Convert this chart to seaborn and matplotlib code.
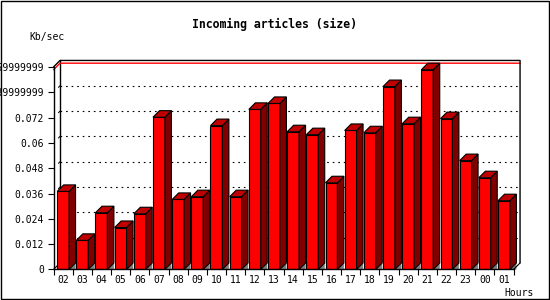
import matplotlib
matplotlib.use("Agg")
import matplotlib.pyplot as plt
from matplotlib.patches import Polygon, Rectangle
import pandas as pd
import seaborn as sns

hours = ["02", "03", "04", "05", "06", "07", "08", "09", "10", "11", "12", "13",
         "14", "15", "16", "17", "18", "19", "20", "21", "22", "23", "00", "01"]
rate = [0.0370, 0.0138, 0.0269, 0.0199, 0.0264, 0.0722, 0.0332, 0.0345,
        0.0682, 0.0345, 0.0759, 0.0787, 0.0653, 0.0639, 0.0411, 0.0659,
        0.0648, 0.0867, 0.0691, 0.0947, 0.0715, 0.0516, 0.0435, 0.0326]
y_ticks = [0, 0.012, 0.024, 0.036, 0.048, 0.06, 0.072, 0.084, 0.096]
y_labels = ["0", "0.012", "0.024", "0.036", "0.048", "0.06", "0.072",
            "0.0839999999", "0.0959999999"]

df = pd.DataFrame({"hour": hours, "rate": rate})

sns.set_style("white")
plt.rcParams["font.family"] = ["DejaVu Sans Mono"]
plt.rcParams["text.color"] = "black"
plt.rcParams["xtick.color"] = "black"
plt.rcParams["ytick.color"] = "black"
plt.rcParams["xtick.labelcolor"] = "black"
plt.rcParams["ytick.labelcolor"] = "black"

fig = plt.figure(figsize=(5.5, 3), dpi=100)
ax = fig.add_axes([0.0973, 0.1017, 0.8364, 0.675])
sns.barplot(data=df, x="hour", y="rate", color="#ff0000", saturation=1,
            width=0.62, edgecolor="black", linewidth=0.8, ax=ax, zorder=3)

xmin, xmax = -0.5, 23.5
ymax = y_ticks[-1]
ax.set_xlim(xmin, xmax)
ax.set_ylim(0, ymax)

# 3d depth offset (data units)
dx, dy = 0.34, 0.0031

for p in list(ax.patches):
    x0, w, h = p.get_x(), p.get_width(), p.get_height()
    xr = x0 + w
    ax.add_patch(Polygon([(xr, 0), (xr + dx, dy), (xr + dx, 0)],
                         closed=True, facecolor="#808080", edgecolor="none",
                         zorder=2, clip_on=False))
    ax.add_patch(Polygon([(xr, 0), (xr + dx, dy), (xr + dx, h + dy), (xr, h)],
                         closed=True, facecolor="#800000", edgecolor="black",
                         linewidth=0.8, zorder=3, clip_on=False))
    ax.add_patch(Polygon([(x0, h), (x0 + dx, h + dy), (xr + dx, h + dy), (xr, h)],
                         closed=True, facecolor="#c00000", edgecolor="black",
                         linewidth=0.8, zorder=3, clip_on=False))

# back wall grid
for v in y_ticks[1:-1]:
    ax.plot([xmin + dx, xmax + dx], [v + dy, v + dy], color="black", lw=0.8,
            dashes=(1.5, 3.5), zorder=1, clip_on=False)
    ax.plot([xmin + dx * 0.75, xmin + dx], [v + dy * 0.75, v + dy], color="black",
            lw=0.7, zorder=1, clip_on=False)

# back frame
ax.plot([xmin, xmin + dx, xmax + dx, xmax + dx], [ymax, ymax + dy, ymax + dy, dy],
        color="black", lw=1, zorder=2, clip_on=False)
ax.plot([xmin + dx, xmin + dx], [dy, ymax + dy], color="black", lw=1,
        zorder=1, clip_on=False)
ax.plot([xmin, xmin + dx], [0, dy], color="black", lw=0.8, zorder=2, clip_on=False)
ax.plot([xmax, xmax + dx], [0, dy], color="black", lw=0.8, zorder=2, clip_on=False)

# max line
top = max(rate)
ax.plot([xmin, xmin + dx, xmax + dx], [top, top + dy, top + dy], color="red",
        lw=1, zorder=1.5, clip_on=False)

for s in ["top", "right"]:
    ax.spines[s].set_visible(False)
for s in ["left", "bottom"]:
    ax.spines[s].set_color("black")
    ax.spines[s].set_linewidth(1)
    ax.spines[s].set_zorder(5)

ax.set_yticks(y_ticks, y_labels)
ax.set_xticks(range(len(hours)), hours)
ax.set_xticks([i - 0.5 for i in range(len(hours) + 1)], minor=True)
ax.tick_params(axis="y", length=4, width=0.8, direction="out", pad=3,
               labelsize=7, left=True, color="black", labelcolor="black")
ax.tick_params(axis="x", which="major", length=0, pad=4, labelsize=7,
               labelcolor="black")
ax.tick_params(axis="x", which="minor", length=4, width=0.8, direction="out",
               bottom=True, color="black")
ax.set_xlabel("")
ax.set_ylabel("")

fig.text(0.5, 0.917, "Incoming articles (size)", ha="center", va="center",
         fontsize=8.3, fontweight="bold", color="black")
fig.text(47 / 550, 1 - 37 / 300, "Kb/sec", ha="center", va="center",
         fontsize=7, color="black")
fig.text(519 / 550, 1 - 292.5 / 300, "Hours", ha="center", va="center",
         fontsize=7, color="black")

fig.patches.append(Rectangle((0.5 / 550, 1.5 / 300), 548 / 550, 298 / 300,
                             transform=fig.transFigure, fill=False,
                             edgecolor="black", linewidth=1))

fig.savefig("out.png", dpi=100)
